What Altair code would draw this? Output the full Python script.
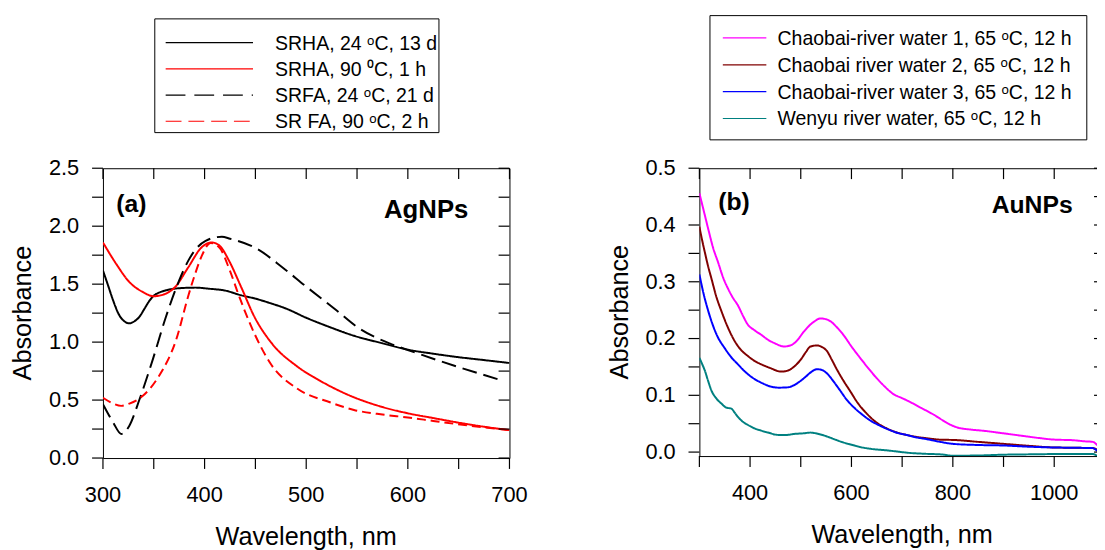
import altair as alt
import pandas as pd

FONT = "Liberation Sans"

# ---------------- Panel (a): AgNPs ----------------
a_names = ["SRHA, 24 ᵒC, 13 d", "SRHA, 90 ⁰C, 1 h", "SRFA, 24 ᵒC, 21 d", "SR FA, 90 ᵒC, 2 h"]
a_colors = ["#000000", "#ff0000", "#000000", "#ff0000"]
a_dashes = [[1, 0], [1, 0], [15, 7], [9, 5]]
a_leg_dashes = [[1, 0], [1, 0], [20, 9], [16, 7]]

a1_wl = [300, 305, 310, 316, 321, 326, 331, 336, 341, 346, 350, 356, 362, 375, 391, 405, 420, 436, 450, 465,
         480, 500, 520, 547, 575, 600, 625, 650, 675, 700]
a1_ab = [1.618, 1.49, 1.36, 1.233, 1.18, 1.162, 1.18, 1.22, 1.29, 1.36, 1.40, 1.43, 1.447, 1.465, 1.47, 1.46,
         1.445, 1.404, 1.375, 1.335, 1.29, 1.21, 1.14, 1.055, 0.99, 0.935, 0.90, 0.87, 0.845, 0.82]

a2_wl = [300, 313, 326, 339, 350, 362, 371, 384, 397, 407, 415, 424, 436, 449, 466, 491, 515, 540, 575, 600,
         625, 650, 675, 700]
a2_ab = [1.86, 1.675, 1.518, 1.433, 1.396, 1.419, 1.475, 1.646, 1.817, 1.86, 1.83, 1.703, 1.475, 1.219, 0.991,
         0.791, 0.66, 0.55, 0.44, 0.386, 0.345, 0.305, 0.27, 0.241]

a3_wl = [300, 310, 318, 326, 336, 349, 362, 375, 384, 401, 417, 425, 450, 477, 499, 530, 550, 582, 600, 648, 690]
a3_ab = [0.464, 0.308, 0.208, 0.279, 0.507, 0.849, 1.219, 1.532, 1.703, 1.874, 1.909, 1.892, 1.813, 1.642,
         1.486, 1.273, 1.131, 0.989, 0.932, 0.79, 0.676]

a4_wl = [300, 310, 318, 326, 339, 355, 372, 384, 390, 397, 406, 415, 425, 433, 446, 466, 491, 524, 547, 575,
         600, 625, 648, 675, 700]
a4_ab = [0.52, 0.47, 0.45, 0.47, 0.535, 0.706, 1.02, 1.40, 1.57, 1.74, 1.855, 1.81, 1.614, 1.419, 1.133, 0.80,
         0.60, 0.479, 0.415, 0.375, 0.35, 0.32, 0.293, 0.265, 0.241]

# ---------------- Panel (b): AuNPs ----------------
b_names = ["Chaobai-river water 1, 65 ᵒC, 12 h", "Chaobai river water 2, 65 ᵒC, 12 h",
           "Chaobai-river water 3, 65 ᵒC, 12 h", "Wenyu river water, 65 ᵒC, 12 h"]
b_colors = ["#ff00ff", "#800000", "#0000ff", "#008080"]
b_dashes = [[1, 0], [1, 0], [1, 0], [1, 0]]

b1_wl = [300, 310, 318, 327, 337, 347, 357, 366, 376, 386, 396, 408, 422, 435, 448, 467, 480, 490, 506, 516,
         526, 539, 550, 558, 570, 584, 600, 617, 633, 649, 665, 682, 700, 714, 737, 764, 780, 798, 815, 832,
         866, 900, 934, 968, 1000, 1036, 1060, 1076, 1085]
b1_ab = [0.456, 0.42, 0.391, 0.36, 0.334, 0.307, 0.287, 0.272, 0.2585, 0.24, 0.224, 0.215, 0.2066, 0.198,
         0.192, 0.186, 0.188, 0.194, 0.212, 0.222, 0.2296, 0.2354, 0.234, 0.2308, 0.221, 0.2066, 0.186, 0.166,
         0.148, 0.131, 0.116, 0.1026, 0.095, 0.089, 0.078, 0.065, 0.056, 0.047, 0.042, 0.040, 0.037, 0.033,
         0.029, 0.025, 0.022, 0.021, 0.019, 0.018, 0.012]

b2_wl = [300, 305, 311, 317, 324, 333, 344, 356, 370, 382, 396, 408, 422, 440, 461, 470, 480, 490, 500, 510,
         519, 532, 542, 552, 561, 571, 584, 597, 612, 630, 648, 669, 688, 708, 727, 747, 779, 800, 850, 900,
         950, 1000, 1050, 1076, 1085]
b2_ab = [0.397, 0.375, 0.351, 0.328, 0.305, 0.275, 0.247, 0.22, 0.195, 0.18, 0.169, 0.161, 0.1546, 0.148,
         0.1418, 0.1425, 0.146, 0.153, 0.163, 0.176, 0.186, 0.1878, 0.185, 0.1776, 0.163, 0.146, 0.126, 0.108,
         0.087, 0.068, 0.053, 0.042, 0.035, 0.0303, 0.027, 0.0246, 0.0217, 0.0214, 0.018, 0.0145, 0.011,
         0.0081, 0.0075, 0.007, 0.004]

b3_wl = [300, 308, 318, 326, 335, 350, 362, 376, 392, 409, 425, 441, 457, 474, 487, 500, 510, 519, 532, 542,
         552, 565, 578, 590, 604, 620, 636, 655, 675, 690, 708, 727, 747, 775, 800, 850, 900, 950, 1000, 1050,
         1076, 1085]
b3_ab = [0.313, 0.28, 0.247, 0.225, 0.205, 0.183, 0.168, 0.1546, 0.14, 0.1286, 0.121, 0.1153, 0.1135, 0.114,
         0.118, 0.1257, 0.133, 0.14, 0.146, 0.1445, 0.1383, 0.124, 0.108, 0.093, 0.0794, 0.067, 0.0563, 0.047,
         0.039, 0.034, 0.0303, 0.026, 0.023, 0.018, 0.0145, 0.0125, 0.0116, 0.0095, 0.0081, 0.0075, 0.007,
         0.002]

b4_wl = [300, 305, 311, 317, 324, 333, 344, 353, 363, 370, 376, 385, 396, 408, 422, 437, 454, 470, 487, 505,
         519, 535, 552, 568, 584, 600, 617, 640, 669, 690, 714, 745, 779, 800, 850, 900, 950, 1000, 1050, 1076,
         1085]
b4_ab = [0.166, 0.156, 0.143, 0.126, 0.108, 0.095, 0.085, 0.0783, 0.0766, 0.069, 0.062, 0.054, 0.0477, 0.042,
         0.0378, 0.034, 0.0303, 0.030, 0.032, 0.033, 0.0343, 0.032, 0.0274, 0.022, 0.017, 0.013, 0.009, 0.0055,
         0.0031, 0.001, -0.0014, -0.003, -0.0043, -0.0064, -0.006, -0.0046, -0.004, -0.0035, -0.0035, -0.0035,
         -0.0065]

# ---------------- ticks and tick labels ----------------
a_xticks = [300, 350, 400, 450, 500, 550, 600, 650, 700]
a_yticks = [0, 0.25, 0.5, 0.75, 1.0, 1.25, 1.5, 1.75, 2.0, 2.25, 2.5]
a_xlab_at = [300, 400, 500, 600, 700]
a_xlabels = ["300", "400", "500", "600", "700"]
a_ylab_at = [0, 0.5, 1.0, 1.5, 2.0, 2.5]
a_ylabels = ["0.0", "0.5", "1.0", "1.5", "2.0", "2.5"]

b_xticks = [300, 400, 500, 600, 700, 800, 900, 1000, 1100]
b_yticks = [0, 0.05, 0.1, 0.15, 0.2, 0.25, 0.3, 0.35, 0.4, 0.45, 0.5]
b_xlab_at = [400, 600, 800, 1000]
b_xlabels = ["400", "600", "800", "1000"]
b_ylab_at = [0, 0.1, 0.2, 0.3, 0.4, 0.5]
b_ylabels = ["0.0", "0.1", "0.2", "0.3", "0.4", "0.5"]

x_title = "Wavelength, nm"
y_title = "Absorbance"

TICK = 11


def long_df(names, wls, vals):
    rows = []
    for n, w, v in zip(names, wls, vals):
        for xi, yi in zip(w, v):
            rows.append({"series": n, "wl": xi, "abs": yi})
    return pd.DataFrame(rows)


one = pd.DataFrame({"k": [0]})


def panel(df, names, colors, dashes, leg_dashes, xdom, ydom, xticks, yticks, xlab_at, xlabels,
          ylab_at, ylabels, W, H, box, line_x, text_x, row_y, tag, tag_xy, label, label_xy, label_size):
    xs = alt.Scale(domain=xdom, nice=False, zero=False)
    ys = alt.Scale(domain=ydom, nice=False, zero=False)
    lines = alt.Chart(df).mark_line(clip=True, strokeWidth=2, interpolate="monotone").encode(
        x=alt.X("wl:Q", scale=xs, axis=None),
        y=alt.Y("abs:Q", scale=ys, axis=None),
        color=alt.Color("series:N", scale=alt.Scale(domain=names, range=colors), legend=None),
        strokeDash=alt.StrokeDash("series:N", scale=alt.Scale(domain=names, range=dashes), legend=None),
    )
    # tick labels, positioned through the scales
    lab = dict(font=FONT, fontSize=22, color="black")
    xl = alt.Chart(pd.DataFrame({"t": xlab_at, "lab": xlabels})).mark_text(
        align="center", baseline="alphabetic", **lab).encode(
        x=alt.X("t:Q", scale=xs, axis=None), y=alt.value(H + 44.6), text="lab:N")
    yl = alt.Chart(pd.DataFrame({"t": ylab_at, "lab": ylabels})).mark_text(
        align="right", baseline="middle", **lab).encode(
        y=alt.Y("t:Q", scale=ys, axis=None), x=alt.value(-24), text="lab:N")
    xt = alt.Chart(one).mark_text(text=x_title, align="center", baseline="alphabetic", font=FONT,
                                  fontSize=25.5, color="black").encode(
        x=alt.value(W / 2), y=alt.value(H + 88))
    yt = alt.Chart(one).mark_text(text=y_title, align="center", baseline="alphabetic", angle=270,
                                  font=FONT, fontSize=25.5, color="black").encode(
        x=alt.value(-72.5), y=alt.value(H / 2))
    layers = [lines, xl, yl, xt, yt]
    layers.append(alt.Chart(one).mark_rect(fill="white", stroke="black", strokeWidth=1).encode(
        x=alt.value(box[0]), x2=alt.value(box[1]), y=alt.value(box[2]), y2=alt.value(box[3])))
    for i, (n, c, d) in enumerate(zip(names, colors, leg_dashes)):
        layers.append(alt.Chart(one).mark_rule(color=c, strokeWidth=1.2, strokeDash=d).encode(
            x=alt.value(line_x[0]), x2=alt.value(line_x[1]), y=alt.value(row_y[i])))
        layers.append(alt.Chart(one).mark_text(text=n, align="left", baseline="middle", font=FONT,
                                               fontSize=19.7, color="black").encode(
            x=alt.value(text_x), y=alt.value(row_y[i] + 1)))
    layers.append(alt.Chart(one).mark_text(text=tag, align="left", baseline="alphabetic", font=FONT,
                                           fontSize=25, fontWeight="bold", color="black").encode(
        x=alt.value(tag_xy[0]), y=alt.value(tag_xy[1])))
    layers.append(alt.Chart(one).mark_text(text=label, align="left", baseline="alphabetic", font=FONT,
                                           fontSize=label_size, fontWeight="bold", color="black").encode(
        x=alt.value(label_xy[0]), y=alt.value(label_xy[1])))
    # tick marks on all four sides, positioned through the same scales (drawn last)
    txd = pd.DataFrame({"t": xticks})
    tyd = pd.DataFrame({"t": yticks})
    tv = dict(color="black", opacity=1, thickness=1.2, size=TICK, filled=True)
    layers.append(alt.Chart(txd).mark_tick(orient="vertical", **tv).encode(
        x=alt.X("t:Q", scale=xs, axis=None), y=alt.value(H + TICK / 2)))
    layers.append(alt.Chart(txd).mark_tick(orient="vertical", **tv).encode(
        x=alt.X("t:Q", scale=xs, axis=None), y=alt.value(TICK / 2)))
    layers.append(alt.Chart(tyd).mark_tick(orient="horizontal", **tv).encode(
        y=alt.Y("t:Q", scale=ys, axis=None), x=alt.value(-TICK / 2)))
    layers.append(alt.Chart(tyd).mark_tick(orient="horizontal", **tv).encode(
        y=alt.Y("t:Q", scale=ys, axis=None), x=alt.value(W - TICK / 2)))
    return alt.layer(*layers).properties(width=W, height=H)


df_a = long_df(a_names, [a1_wl, a2_wl, a3_wl, a4_wl], [a1_ab, a2_ab, a3_ab, a4_ab])
df_b = long_df(b_names, [b1_wl, b2_wl, b3_wl, b4_wl], [b1_ab, b2_ab, b3_ab, b4_ab])

pa = panel(df_a, a_names, a_colors, a_dashes, a_leg_dashes, [300, 700], [0, 2.5], a_xticks, a_yticks,
           a_xlab_at, a_xlabels, a_ylab_at, a_ylabels, 411, 293,
           box=[52.4, 339.7, -151, -36], line_x=[63.4, 151.7], text_x=174,
           row_y=[-127 + 26.5 * i for i in range(4)],
           tag="(a)", tag_xy=[13.4, 43.8], label="AgNPs", label_xy=[284.2, 50.7], label_size=26)

pb = panel(df_b, b_names, b_colors, b_dashes, b_dashes, [300, 1100], [-0.007, 0.5], b_xticks, b_yticks,
           b_xlab_at, b_xlabels, b_ylab_at, b_ylabels, 410, 291,
           box=[10.7, 391.7, -154.3, -28.7], line_x=[23.7, 67.7], text_x=79,
           row_y=[-131.7 + 27.13 * i for i in range(4)],
           tag="(b)", tag_xy=[19, 42], label="AuNPs", label_xy=[295.5, 45.7], label_size=25)

chart = alt.hconcat(pa, pb, spacing=80).resolve_scale(
    color="independent", strokeDash="independent"
).properties(
    padding={"left": 3, "top": 3, "right": -10, "bottom": -2}
).configure_view(stroke="black", strokeWidth=1)

chart.save("out.html", embed_options={"renderer": "svg", "actions": False})
